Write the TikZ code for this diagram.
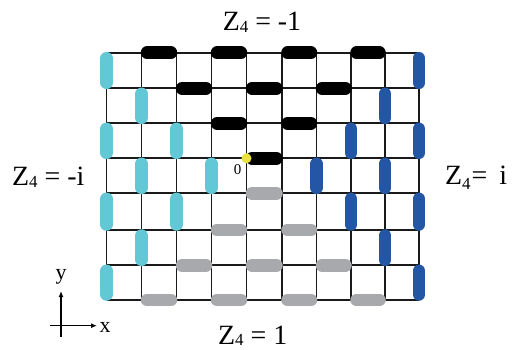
\documentclass[tikz,border=0pt]{standalone}
\usepackage{fontspec}
\setmainfont{Liberation Serif}
\usetikzlibrary{arrows.meta}
\definecolor{dcyan}{HTML}{62C8D6}
\definecolor{dblue}{HTML}{2357A6}
\definecolor{dgray}{HTML}{A7A9AC}
\definecolor{dyellow}{HTML}{E8E43C}
\definecolor{gridc}{HTML}{1A1A1A}
\newcommand{\zfour}[1][-2bp]{Z\raisebox{#1}{\fontsize{17}{17}\selectfont 4}}
\begin{document}
\begin{tikzpicture}[x=1bp,y=-1bp,
  gridline/.style={draw=gridc, line width=1.7bp},
  dimer/.style={line width=12.5bp, line cap=round, shorten <=5.5bp, shorten >=5.5bp},
  lbl/.style={inner sep=0pt, font=\fontsize{28}{28}\selectfont},
  axlbl/.style={inner sep=0pt, font=\fontsize{22}{22}\selectfont},
  axis/.style={line width=1.3bp, -{Latex[length=6bp,width=5bp]}}]
\useasboundingbox (0,0) rectangle (512,349);
\fill[white] (0,0) rectangle (512,349);
% lattice vertices
\foreach \x [count=\i from 0] in {106.5,141.5,176.5,211.5,246.5,282,316.5,351,385,419}{
  \foreach \y [count=\j from 0] in {300,265.3,230,193.3,158.3,123.3,88.3,52.7}{
    \coordinate (v\i-\j) at (\x,\y);
  }
}
% grid
\foreach \j in {0,...,7} \draw[gridline] (v0-\j) -- (v9-\j);
\foreach \i in {0,...,9} \draw[gridline] (v\i-0) -- (v\i-7);
% black dimers (horizontal)
\foreach \i/\j in {1/7,3/7,5/7,7/7,2/6,4/6,6/6,3/5,5/5,4/4}{
  \pgfmathtruncatemacro{\k}{\i+1}
  \draw[dimer, black] (v\i-\j) -- (v\k-\j);
}
% gray dimers (horizontal)
\foreach \i/\j in {4/3,3/2,5/2,2/1,4/1,6/1,1/0,3/0,5/0,7/0}{
  \pgfmathtruncatemacro{\k}{\i+1}
  \draw[dimer, dgray] (v\i-\j) -- (v\k-\j);
}
% cyan dimers (vertical)
\foreach \i/\j in {0/6,0/4,0/2,0/0,1/5,1/3,1/1,2/4,2/2,3/3}{
  \pgfmathtruncatemacro{\k}{\j+1}
  \draw[dimer, dcyan] (v\i-\j) -- (v\i-\k);
}
% blue dimers (vertical)
\foreach \i/\j in {9/6,9/4,9/2,9/0,8/5,8/3,8/1,7/4,7/2,6/3}{
  \pgfmathtruncatemacro{\k}{\j+1}
  \draw[dimer, dblue] (v\i-\j) -- (v\i-\k);
}
% origin
\node[circle, fill=dyellow, minimum size=10bp, inner sep=0pt] (origin) at (v4-4) {};
\node[inner sep=0pt, font=\fontsize{15}{15}\selectfont] (zero) at (237.5,170) {0};
% labels
\node[lbl, anchor=base] (ltop) at (262,30) {\zfour{} = -1};
\node[lbl, anchor=base west] (lleft) at (12,185) {\zfour{} = -i};
\node[lbl, anchor=base west] (lright) at (445,184) {\zfour[-5bp]\hspace{1bp}=\hspace{12bp}i};
\node[lbl, anchor=base west] (lbot) at (218,344) {\zfour[-1.5bp]{} = 1};
% axes
\coordinate (yb) at (61,337);
\coordinate (yt) at (61,291);
\coordinate (xl) at (50,325.7);
\coordinate (xr) at (97,325.7);
\draw[axis] (yb) -- (yt);
\draw[axis] (xl) -- (xr);
\node[axlbl] (ylbl) at (61,277) {y};
\node[axlbl] (xlbl) at (105,327) {x};
\end{tikzpicture}
\end{document}
